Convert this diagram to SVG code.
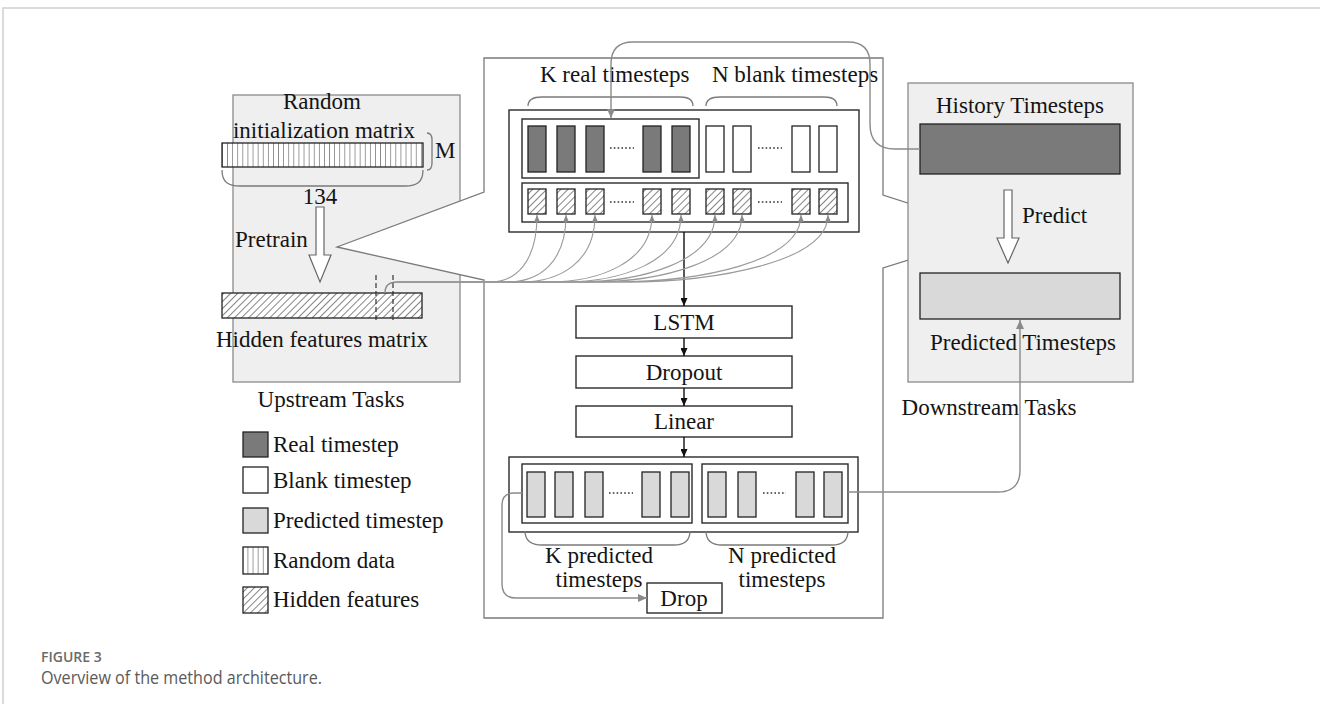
<svg xmlns="http://www.w3.org/2000/svg" width="1320" height="704" viewBox="0 0 1320 704">
  <style>
    .t { font-family: "Liberation Serif", "Times New Roman", serif; font-size: 23px; fill: #141414; }
    .mid { text-anchor: middle; }
    .box { fill: #ffffff; stroke: #2a2a2a; stroke-width: 1.4; }
    .panel { fill: #efefef; stroke: #8a8a8a; stroke-width: 1.3; }
    .real { fill: #7a7a7a; stroke: #222; stroke-width: 1.3; }
    .blank { fill: #ffffff; stroke: #222; stroke-width: 1.3; }
    .pred { fill: #d9d9d9; stroke: #222; stroke-width: 1.3; }
    .hid { fill: url(#hatch); stroke: #222; stroke-width: 1.3; }
    .rnd { fill: url(#stripes); stroke: #222; stroke-width: 1.3; }
    .brace { fill: none; stroke: #7a7a7a; stroke-width: 1.3; }
    .dots { fill: none; stroke: #333; stroke-width: 1.6; stroke-dasharray: 1.6 2.2; }
    .flow { fill: none; stroke: #111; stroke-width: 1.4; marker-end: url(#arrowBlack); }
    .link { fill: none; stroke: #8a8a8a; stroke-width: 1.4; marker-end: url(#arrowGray); }
    .feed { fill: none; stroke: #9a9a9a; stroke-width: 1.1; marker-end: url(#arrowGraySmall); }
    .hollow { fill: #ffffff; stroke: #666; stroke-width: 1.2; }
    .cap1 { font-family: "Open Sans", "Noto Sans", sans-serif; font-size: 14px; font-weight: 600; fill: #6a6a6a; }
    .cap2 { font-family: "Open Sans", "Noto Sans", sans-serif; font-size: 18px; fill: #5a5a5a; }
  </style>
  <defs>
    <pattern id="hatch" patternUnits="userSpaceOnUse" width="5" height="5" patternTransform="rotate(45)">
      <rect width="5" height="5" fill="#ffffff"/>
      <line x1="0" y1="0" x2="0" y2="5" stroke="#333" stroke-width="1.2"/>
    </pattern>
    <pattern id="stripes" patternUnits="userSpaceOnUse" x="222" y="0" width="5.1" height="10">
      <rect width="5.1" height="10" fill="#ffffff"/>
      <line x1="0" y1="0" x2="0" y2="10" stroke="#333" stroke-width="1"/>
    </pattern>
    <marker id="arrowBlack" markerUnits="userSpaceOnUse" markerWidth="8" markerHeight="7" refX="8" refY="3.5" orient="auto">
      <path d="M0,0 L8,3.5 L0,7 z" fill="#111"/>
    </marker>
    <marker id="arrowGray" markerUnits="userSpaceOnUse" markerWidth="9" markerHeight="8" refX="9" refY="4" orient="auto">
      <path d="M0,0 L9,4 L0,8 z" fill="#8a8a8a"/>
    </marker>
    <marker id="arrowGraySmall" markerUnits="userSpaceOnUse" markerWidth="7" markerHeight="6" refX="7" refY="3" orient="auto">
      <path d="M0,0 L7,3 L0,6 z" fill="#8a8a8a"/>
    </marker>
  </defs>

  <rect width="1320" height="704" fill="#ffffff"/>
  <!-- page frame -->
  <path d="M3,704 L3,8 L1320,8" fill="none" stroke="#cfcfcf" stroke-width="1.5"/>

  <!-- upstream panel -->
  <g id="upstream">
    <rect class="panel" x="233" y="95" width="227" height="287"/>
    <text class="t mid" x="322" y="109">Random</text>
    <text class="t mid" x="324" y="138">initialization matrix</text>
    <rect class="rnd" x="222" y="143" width="201" height="24"/>
    <path class="brace" d="M427,133 Q432,133 432,140 L432,163 Q432,170 427,170"/>
    <text class="t" x="435" y="158">M</text>
    <path class="brace" d="M222,170 C222,182 228,186 240,186 L405,186 C417,186 423,182 423,170"/>
    <text class="t mid" x="320" y="204">134</text>
    <path class="hollow" d="M316,207 L324,207 L324,255 L331,255 L320,282 L309,255 L316,255 Z"/>
    <text class="t" x="235" y="247">Pretrain</text>
    <rect class="hid" x="222" y="293" width="200" height="25"/>
    <line x1="376" y1="275" x2="376" y2="323" stroke="#333" stroke-width="1.2" stroke-dasharray="5 3"/>
    <line x1="393" y1="275" x2="393" y2="323" stroke="#333" stroke-width="1.2" stroke-dasharray="5 3"/>
    <text class="t mid" x="322" y="347">Hidden features matrix</text>
    <text class="t mid" x="331" y="407">Upstream Tasks</text>
  </g>

  <!-- central model callout -->
  <g id="model-frame">
    <path d="M484,58 L883,58 L883,195 L998,232 L883,268 L883,618 L484,618 L484,280 L337,247 L484,192 Z" fill="#ffffff" stroke="#7a7a7a" stroke-width="1.3"/>
  </g>

  <!-- input sequence -->
  <g id="input-sequence">
    <text class="t" x="540" y="82">K real timesteps</text>
    <text class="t" x="712" y="82">N blank timesteps</text>
    <path class="brace" d="M528,106 C528,100 532,97 542,97 L680,97 C689,97 693,100 693,106"/>
    <path class="brace" d="M706,106 C706,100 710,97 720,97 L824,97 C833,97 837,100 837,106"/>
    <rect class="box" x="509" y="110" width="350" height="122"/>
    <rect class="box" x="522" y="119" width="177" height="59"/>
    <rect class="real" x="528" y="126" width="18" height="46"/>
    <rect class="real" x="557" y="126" width="18" height="46"/>
    <rect class="real" x="586" y="126" width="18" height="46"/>
    <path class="dots" d="M610,148 L634,148"/>
    <rect class="real" x="643" y="126" width="18" height="46"/>
    <rect class="real" x="672" y="126" width="18" height="46"/>
    <rect class="blank" x="706" y="126" width="18" height="46"/>
    <rect class="blank" x="733" y="126" width="18" height="46"/>
    <path class="dots" d="M758,148 L782,148"/>
    <rect class="blank" x="792" y="126" width="18" height="46"/>
    <rect class="blank" x="819" y="126" width="18" height="46"/>
    <rect class="box" x="522" y="183" width="326" height="39"/>
    <rect class="hid" x="528" y="189" width="18" height="25"/>
    <rect class="hid" x="557" y="189" width="18" height="25"/>
    <rect class="hid" x="586" y="189" width="18" height="25"/>
    <path class="dots" d="M610,202 L634,202"/>
    <rect class="hid" x="643" y="189" width="18" height="25"/>
    <rect class="hid" x="672" y="189" width="18" height="25"/>
    <rect class="hid" x="706" y="189" width="18" height="25"/>
    <rect class="hid" x="733" y="189" width="18" height="25"/>
    <path class="dots" d="M758,202 L782,202"/>
    <rect class="hid" x="792" y="189" width="18" height="25"/>
    <rect class="hid" x="819" y="189" width="18" height="25"/>
  </g>

  <g id="lstm">
    <rect class="box" x="576" y="306" width="216" height="32"/>
    <text class="t mid" x="684" y="330">LSTM</text>
  </g>
  <g id="dropout">
    <rect class="box" x="576" y="356" width="216" height="32"/>
    <text class="t mid" x="684" y="380">Dropout</text>
  </g>
  <g id="linear">
    <rect class="box" x="576" y="406" width="216" height="31"/>
    <text class="t mid" x="684" y="429">Linear</text>
  </g>

  <!-- output sequence -->
  <g id="output-sequence">
    <rect class="box" x="509" y="457" width="349" height="75"/>
    <rect class="box" x="522" y="464" width="170" height="59"/>
    <rect class="pred" x="527" y="472" width="18" height="45"/>
    <rect class="pred" x="555" y="472" width="18" height="45"/>
    <rect class="pred" x="585" y="472" width="18" height="45"/>
    <path class="dots" d="M609,493 L633,493"/>
    <rect class="pred" x="642" y="472" width="18" height="45"/>
    <rect class="pred" x="671" y="472" width="18" height="45"/>
    <rect class="box" x="702" y="464" width="146" height="59"/>
    <rect class="pred" x="708" y="472" width="18" height="45"/>
    <rect class="pred" x="738" y="472" width="18" height="45"/>
    <path class="dots" d="M763,493 L786,493"/>
    <rect class="pred" x="796" y="472" width="18" height="45"/>
    <rect class="pred" x="824" y="472" width="18" height="45"/>
    <path class="brace" d="M525,531 C525,540 530,545 542,545 L674,545 C685,545 690,540 690,531"/>
    <path class="brace" d="M706,531 C706,540 711,545 722,545 L832,545 C843,545 848,540 848,531"/>
    <text class="t mid" x="599" y="563">K predicted</text>
    <text class="t mid" x="599" y="587">timesteps</text>
    <text class="t mid" x="782" y="563">N predicted</text>
    <text class="t mid" x="782" y="587">timesteps</text>
  </g>

  <g id="drop">
    <rect class="box" x="647" y="583" width="75" height="30"/>
    <text class="t mid" x="684" y="606">Drop</text>
  </g>

  <!-- downstream panel -->
  <g id="downstream">
    <rect class="panel" x="908" y="83" width="225" height="299"/>
    <text class="t mid" x="1020" y="113">History Timesteps</text>
    <rect class="real" x="920" y="124" width="200" height="50"/>
    <path class="hollow" d="M1004,190 L1012,190 L1012,238 L1019,238 L1008,263 L997,238 L1004,238 Z"/>
    <text class="t" x="1022" y="223">Predict</text>
    <rect class="pred" x="920" y="273" width="200" height="46"/>
    <text class="t mid" x="1023" y="350">Predicted Timesteps</text>
  </g>
  <text class="t mid" x="989" y="415">Downstream Tasks</text>

  <!-- legend -->
  <g id="legend">
    <rect class="real" x="243" y="432" width="25" height="25"/>
    <text class="t" x="273" y="452">Real timestep</text>
    <rect class="blank" x="243" y="467" width="25" height="26"/>
    <text class="t" x="273" y="488">Blank timestep</text>
    <rect class="pred" x="243" y="508" width="25" height="25"/>
    <text class="t" x="273" y="528">Predicted timestep</text>
    <rect class="rnd" x="243" y="547" width="25" height="27"/>
    <text class="t" x="273" y="568">Random data</text>
    <rect class="hid" x="243" y="587" width="25" height="26"/>
    <text class="t" x="273" y="607">Hidden features</text>
  </g>

  <!-- connectors -->
  <g id="connectors">
    <path class="flow" d="M684,232 L684,306"/>
    <path class="flow" d="M684,338 L684,356"/>
    <path class="flow" d="M684,388 L684,406"/>
    <path class="flow" d="M684,437 L684,457"/>
    <path class="link" d="M920,149 L895,149 Q870,149 870,124 L870,64 Q870,42 848,42 L633,42 Q611,42 611,64 L611,118"/>
    <path class="link" d="M848,492 L998,492 Q1020,492 1020,470 L1020,320"/>
    <path class="link" d="M522,493 L514,493 Q502,493 502,505 L502,584 Q502,598 516,598 L647,598"/>
    <path fill="none" stroke="#8a8a8a" stroke-width="1.4" d="M385,293 C385,286 388,282 397,282 L484,282"/>
    <path class="feed" d="M397,282 L490,282 C516,282 537,262 537,215"/>
    <path class="feed" d="M397,282 L507,282 C540,282 566,262 566,215"/>
    <path class="feed" d="M397,282 L521,282 C560,282 595,262 595,215"/>
    <path class="feed" d="M397,282 L548,282 C600,282 652,262 652,215"/>
    <path class="feed" d="M397,282 L563,282 C621,282 681,262 681,215"/>
    <path class="feed" d="M397,282 L577,282 C640,282 715,262 715,215"/>
    <path class="feed" d="M397,282 L590,282 C660,282 742,262 742,215"/>
    <path class="feed" d="M397,282 L613,282 C700,282 801,262 801,215"/>
    <path class="feed" d="M397,282 L624,282 C715,282 828,262 828,215"/>
  </g>

  <!-- caption -->
  <text class="cap1" x="41" y="662">FIGURE 3</text>
  <text class="cap2" x="41" y="684" textLength="281" lengthAdjust="spacingAndGlyphs">Overview of the method architecture.</text>
</svg>
